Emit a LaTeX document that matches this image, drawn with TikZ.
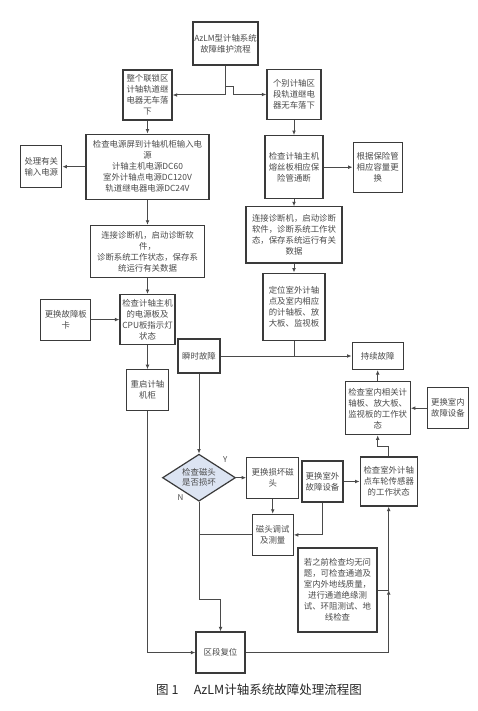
\documentclass[tikz,border=0pt]{standalone}
\usepackage{fontspec}
\setmainfont{Noto Sans CJK SC}
\usetikzlibrary{arrows.meta, positioning, shapes.geometric, calc}
\definecolor{boxgray}{HTML}{3A3A3A}
\definecolor{textgray}{HTML}{4A4A4A}
\definecolor{linegray}{HTML}{4A4A4A}
\definecolor{decblue}{HTML}{DCE4F2}

\begin{document}
\begin{tikzpicture}[
    x=1pt, y=-1pt,
    >={Latex[length=4.5pt, width=3.8pt]},
    box/.style={draw=boxgray, line width=1.2pt, fill=white, align=center, inner sep=1pt, font=\fontsize{8.4}{11}\selectfont, text=textgray},
    sz/.style 2 args={minimum width=#1, minimum height=#2},
    decision/.style={diamond, draw=boxgray, line width=1.2pt, fill=decblue, aspect=1.55, inner sep=0pt, align=center, font=\fontsize{8.4}{10}\selectfont, text=textgray},
    arrow/.style={->, line width=1pt, draw=linegray},
    line/.style={line width=1pt, draw=linegray},
    lbl/.style={font=\fontsize{8}{9}\selectfont, text=textgray},
]
\useasboundingbox (0,0) rectangle (477,711);

% Top of the flow
\node[box, sz={65pt}{43pt}] (title) at (225.5,43.5) {AzLM型计轴系统\\故障维护流程};
\node[box, sz={49pt}{50pt}] (allzone) at (147.5,95) {整个联锁区\\计轴轨道继\\电器无车落\\下};
\node[box, sz={54pt}{50pt}] (onezone) at (294,94.5) {个别计轴区\\段轨道继电\\器无车落下};

% Left branch: power supply
\node[box, sz={123pt}{65pt}, below=13pt of allzone] (power) {检查电源屏到计轴机柜输入电\\源\\计轴主机电源DC60\\室外计轴点电源DC120V\\轨道继电器电源DC24V};
\node[box, sz={41pt}{42pt}, left=23pt of power] (fixpower) {处理有关\\输入电源};
\node[box, sz={114pt}{52pt}, below=25pt of power] (diagl) {连接诊断机，启动诊断软\\件，\\诊断系统工作状态，保存系\\统运行有关数据};
\node[box, sz={55pt}{50pt}, below=16pt of diagl] (hostled) {检查计轴主机\\的电源板及\\CPU板指示灯\\状态};
\node[box, sz={50pt}{41pt}, left=28pt of hostled] (swapcard) {更换故障板\\卡};
\node[box, sz={42pt}{41pt}, below=24pt of hostled] (restart) {重启计轴\\机柜};

% Right branch: fuse board
\node[box, sz={58pt}{63pt}, below=15pt of onezone] (fuse) {检查计轴主机\\熔丝板相应保\\险管通断};
\node[box, sz={49pt}{50pt}, right=29pt of fuse] (swapfuse) {根据保险管\\相应容量更\\换};
\node[box, sz={96pt}{56pt}, below=7pt of fuse] (diagr) {连接诊断机，启动诊断\\软件，诊断系统工作状\\态，保存系统运行有关\\数据};
\node[box, sz={62pt}{67pt}, below=9pt of diagr] (locate) {定位室外计轴\\点及室内相应\\的计轴板、放\\大板、监视板};

% Fault types
\node[box, sz={42pt}{34pt}] (transient) at (199,356) {瞬时故障};
\node[box, sz={51pt}{27pt}, right=131pt of transient] (persist) {持续故障};
\node[box, sz={65pt}{53pt}, below=11pt of persist] (indoor) {检查室内相关计\\轴板、放大板、\\监视板的工作状\\态};
\node[box, sz={41pt}{41pt}, right=16pt of indoor] (swapin) {更换室内\\故障设备};

% Lower part
\node[decision, sz={73pt}{47pt}, below=80pt of transient] (head) {检查磁头\\是否损坏};
\node[box, sz={52pt}{41pt}, right=10pt of head] (swaphead) {更换损坏磁\\头};
\node[box, sz={41pt}{41pt}, below=15pt of swaphead] (tune) {磁头调试\\及测量};
\node[box, sz={41pt}{41pt}] (swapout) at (322.5,481.5) {更换室外\\故障设备};
\node[box, sz={57pt}{49pt}, right=16pt of swapout] (outdoor) {检查室外计轴\\点车轮传感器\\的工作状态};
\node[box, sz={79pt}{84pt}] (ground) at (337.5,590) {若之前检查均无问\\题，可检查通道及\\室内外地线质量，\\进行通道绝缘测\\试、环阻测试、地\\线检查};
\node[box, sz={49pt}{41pt}] (reset) at (220.5,652.5) {区段复位};

% Labels
\node[lbl, above right=0pt and 2pt of head.north east] (yes) {Y};
\node[lbl, below=1pt of head.south west] (no) {N};

% Caption
\node[font=\fontsize{12.5}{14}\selectfont, text=black!85] (caption) at (259,690) {图 1\quad\ AzLM计轴系统故障处理流程图};

% Arrows
\draw[arrow] (title.south) |- (allzone.east);
\draw[arrow] (title.south) -- ++(0,21) -- ++(8,0) |- (onezone.west);
\draw[arrow] (allzone) -- (power);
\draw[arrow] (power) -- (fixpower);
\draw[arrow] (power) -- (diagl);
\draw[arrow] (diagl) -- (hostled);
\draw[arrow] (swapcard) -- (hostled);
\draw[arrow] (hostled) -- (restart);
\draw[arrow] (onezone) -- (fuse);
\draw[arrow] (fuse) -- (swapfuse);
\draw[arrow] (fuse) -- (diagr);
\draw[arrow] (diagr) -- (locate);
\draw[line] (locate.south) -- (locate.south |- transient.east);
\draw[arrow] (transient) -- (persist);
\draw[arrow] (indoor.north) -- (indoor.north |- persist.south);
\draw[arrow] (swapin) -- (indoor);
\draw[arrow] (transient) -- (head);
\draw[arrow] (head) -- (swaphead);
\draw[arrow] (swaphead) -- (tune);
\draw[arrow] (swapout) -- (outdoor);
\draw[arrow] (swapout.south) |- (tune.east);
\draw[line] (tune.west) -- (tune.west -| head.south);
\draw[arrow] (head.south) |- ($(reset.north)+(0,-32)$) -- (reset.north);
\draw[arrow] (restart.south) |- (reset.west);
\draw[arrow] (outdoor.north) -- ++(0,-10) -| (indoor.south);

% Return loop from reset
\coordinate (gjoin) at (outdoor.south |- ground.east);
\draw[arrow] (reset.east) -| (gjoin);
\draw[arrow] (gjoin) -- (outdoor.south);
\draw[line] (ground.east) -- (gjoin);

\end{tikzpicture}
\end{document}
